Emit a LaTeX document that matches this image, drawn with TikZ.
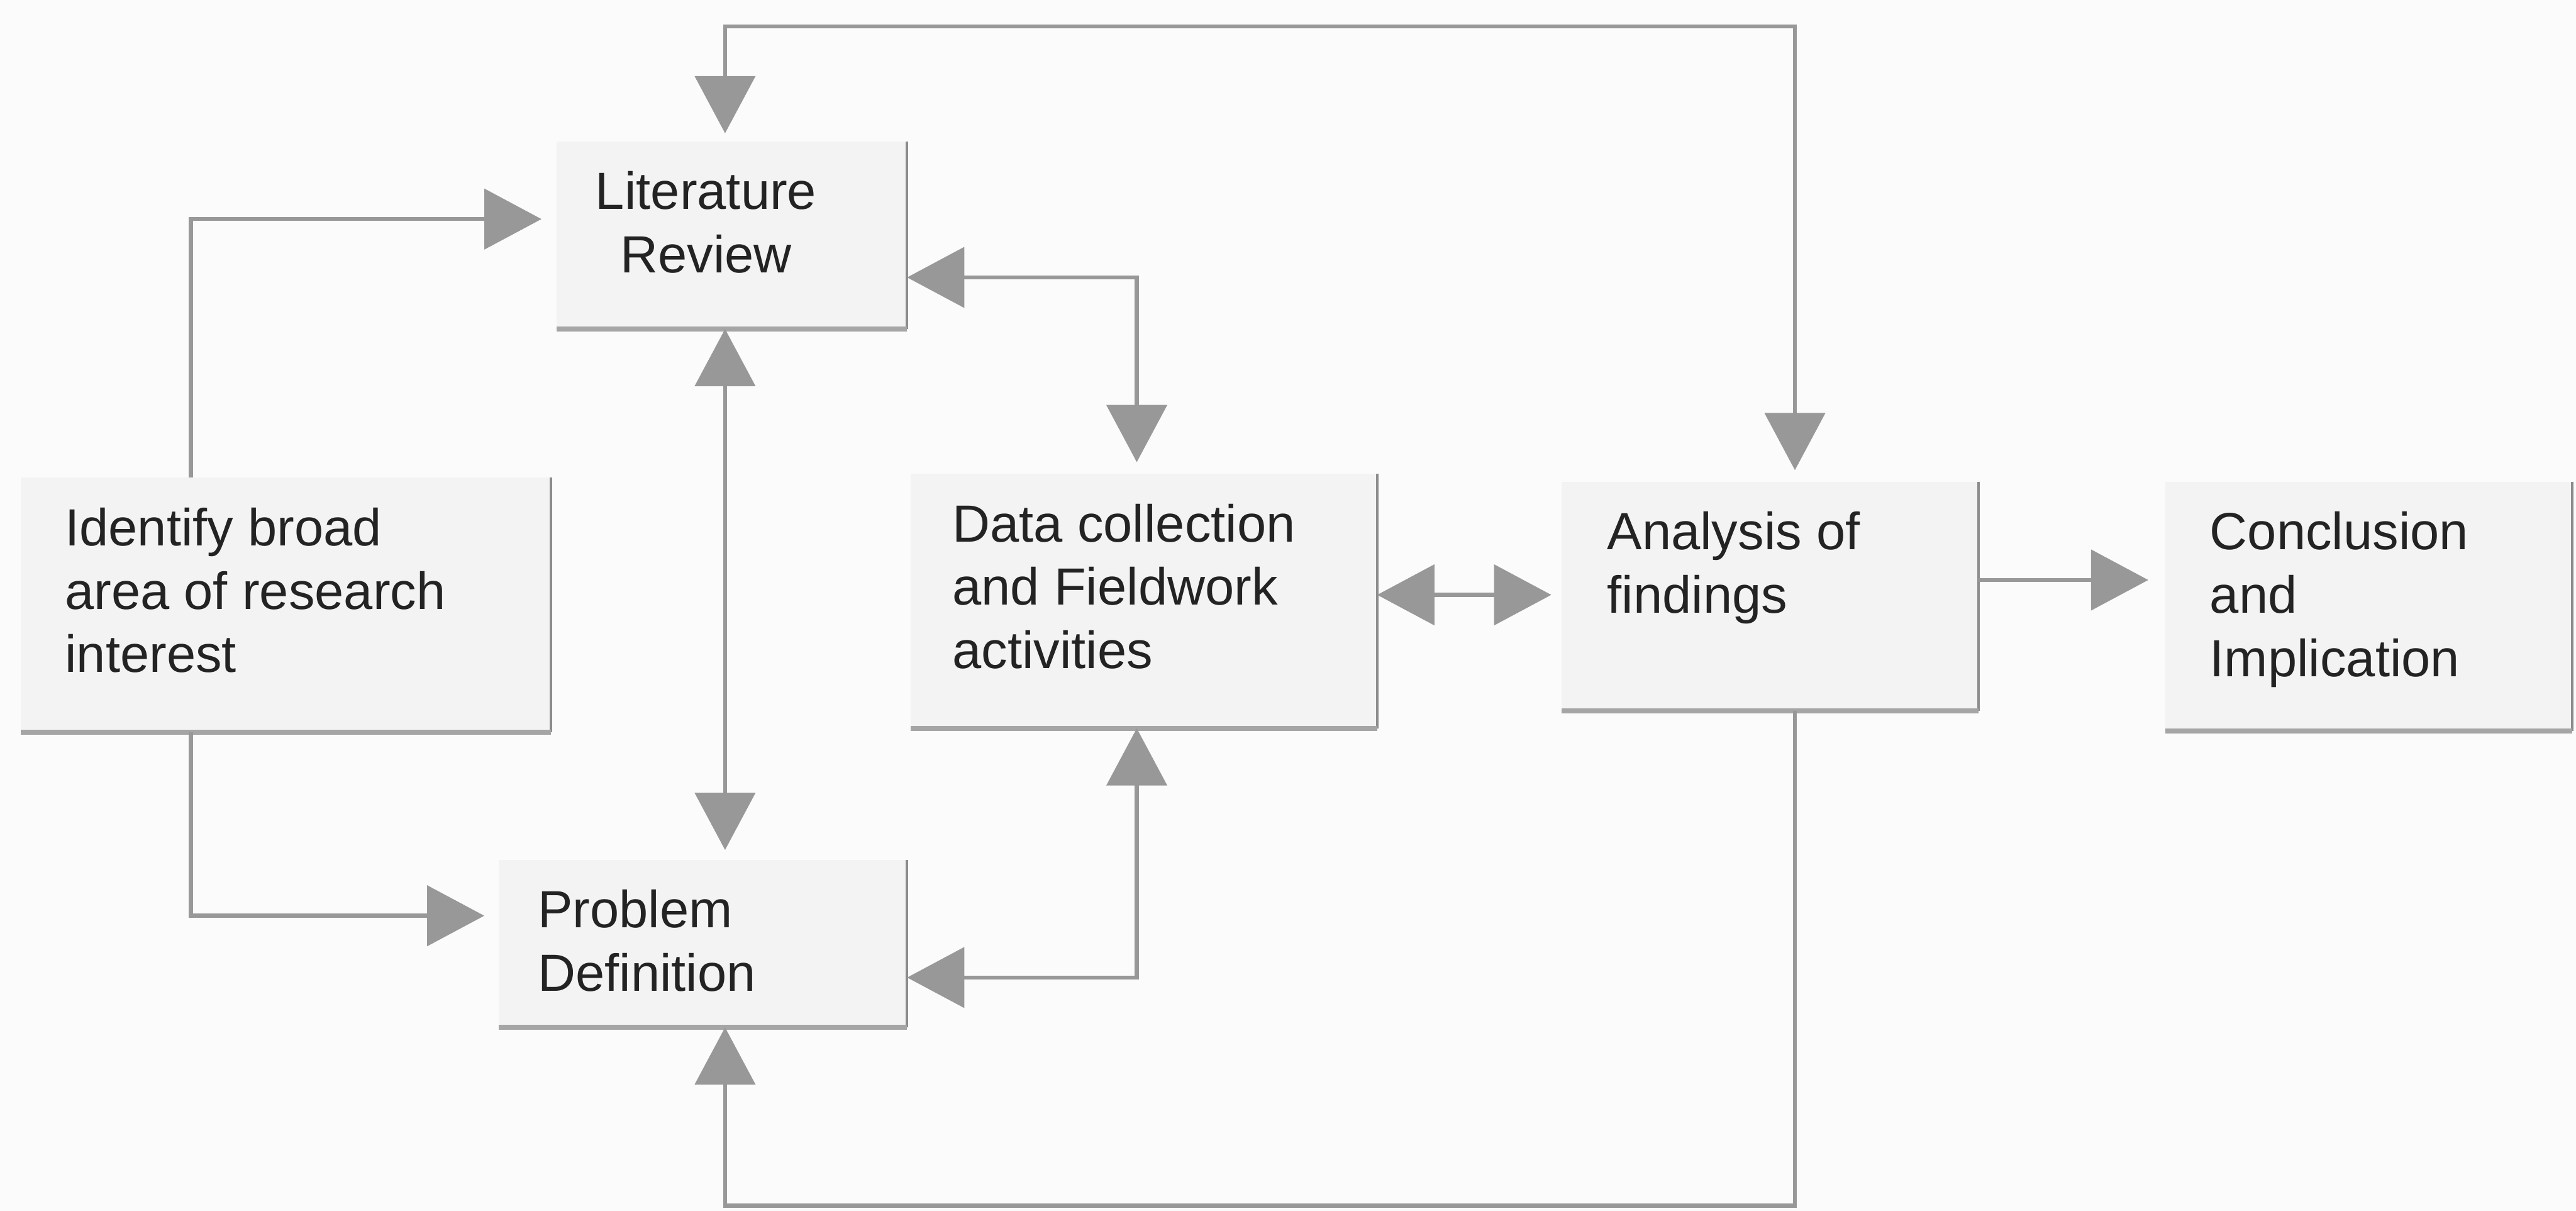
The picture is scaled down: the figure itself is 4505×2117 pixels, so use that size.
\documentclass[tikz,border=0pt]{standalone}
\usepackage{fontspec}
\setmainfont{Liberation Sans}
\usetikzlibrary{arrows.meta,calc}
\definecolor{paper}{RGB}{251,251,251}
\definecolor{boxfill}{RGB}{243,243,243}
\definecolor{wire}{RGB}{152,152,152}
\definecolor{rimline}{RGB}{140,140,140}
\definecolor{rimbase}{RGB}{165,165,165}
\definecolor{ink}{RGB}{35,35,35}
\begin{document}
\begin{tikzpicture}[x=0.01cm,y=-0.01cm,
  stage/.style={rectangle, fill=boxfill, draw=none, inner sep=0pt, outer sep=0pt, anchor=north west},
  boxtext/.style={anchor=north west, inner sep=0pt, text=ink, align=left,
    font=\fontsize{26pt}{31.5pt}\selectfont},
  wirebase/.style={draw=wire, line width=0.07cm},
  oneway/.style={wirebase, -{Triangle[length=1cm,width=1.05cm]}},
  twoway/.style={wirebase, {Triangle[length=1cm,width=1.05cm]}-{Triangle[length=1cm,width=1.05cm]}},
  ]
% page
\fill[paper] (0,0) rectangle (4505,2117);
\useasboundingbox (0,0) rectangle (4505,2117);

% boxes
\node[stage, minimum width=9.27cm, minimum height=4.45cm] (ident) at (36,835) {};
\node[stage, minimum width=6.13cm, minimum height=3.28cm] (lit) at (973,247) {};
\node[stage, minimum width=7.14cm, minimum height=2.93cm] (prob) at (872,1503) {};
\node[stage, minimum width=8.15cm, minimum height=4.45cm] (data) at (1593,828) {};
\node[stage, minimum width=7.29cm, minimum height=4.01cm] (anal) at (2731,842) {};
\node[stage, minimum width=7.11cm, minimum height=4.36cm] (concl) at (3787,842) {};

% shadow rims on the right and bottom sides
\foreach \b in {ident,lit,prob,data,anal,concl}{
  \draw[rimline, line width=0.045cm] (\b.north east) -- (\b.south east);
  \draw[rimbase, line width=0.09cm] (\b.south west) -- (\b.south east);
}

% routing columns and rows
\coordinate (xA) at (334,0);
\coordinate (xB) at (1268,0);
\coordinate (xC) at (1988,0);
\coordinate (xD) at (3139,0);
\coordinate (yTop) at (0,46);
\coordinate (yBot) at (0,2108);
\coordinate (yLit) at (0,383);
\coordinate (yProb) at (0,1601);
\coordinate (yLR) at (0,485);
\coordinate (yPR) at (0,1709);
\coordinate (yDA) at (0,1040);
\coordinate (yAC) at (0,1014);

% connectors
\draw[oneway, shorten >=0.26cm] (ident.north -| xA) |- (lit.west |- yLit);
\draw[oneway, shorten >=0.25cm] (ident.south -| xA) |- (prob.west |- yProb);
\draw[twoway, shorten <=0.14cm, shorten >=0.2cm] (lit.north -| xB) -- (xB |- yTop) -| (anal.north -| xD);
\draw[twoway, shorten >=0.17cm] (lit.south -| xB) -- (prob.north -| xB);
\draw[twoway, shorten >=0.2cm] (lit.east |- yLR) -| (data.north -| xC);
\draw[twoway] (prob.east |- yPR) -| (data.south -| xC);
\draw[twoway, shorten >=0.18cm] (data.east |- yDA) -- (anal.west |- yDA);
\draw[oneway, shorten >=0.3cm] (anal.east |- yAC) -- (concl.west |- yAC);
\draw[oneway] (anal.south -| xD) |- (xB |- yBot) -- (prob.south -| xB);

% labels
\node[boxtext] (ident-t) at ($(ident.north west)+(77,52)$) {Identify broad\\area of research\\interest};
\node[boxtext, anchor=north, align=center] (lit-t) at ($(lit.north)+(-45,52)$) {Literature\\Review};
\node[boxtext] (prob-t) at ($(prob.north west)+(68,52)$) {Problem\\Definition};
\node[boxtext] (data-t) at ($(data.north west)+(72,52)$) {Data collection\\and Fieldwork\\activities};
\node[boxtext] (anal-t) at ($(anal.north west)+(79,52)$) {Analysis of\\findings};
\node[boxtext] (concl-t) at ($(concl.north west)+(77,52)$) {Conclusion\\and\\Implication};
\end{tikzpicture}
\end{document}
